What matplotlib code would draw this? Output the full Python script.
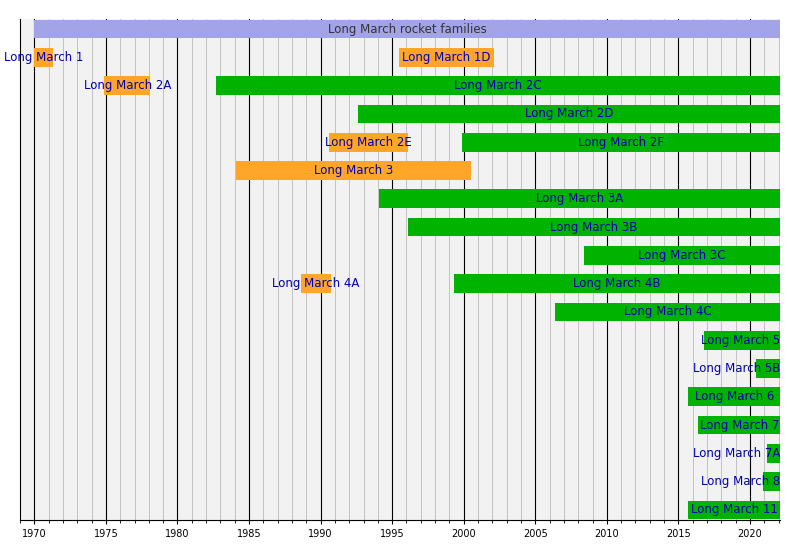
"""
Long March rocket families timeline.
"""
import matplotlib.pyplot as plt
from matplotlib.ticker import MultipleLocator

END = 2022.1

names = ['Long March rocket families', 'Long March 1', 'Long March 1D', 'Long March 2A',
         'Long March 2C', 'Long March 2D', 'Long March 2E', 'Long March 2F', 'Long March 3',
         'Long March 3A', 'Long March 3B', 'Long March 3C', 'Long March 4A', 'Long March 4B',
         'Long March 4C', 'Long March 5', 'Long March 5B', 'Long March 6', 'Long March 7',
         'Long March 7A', 'Long March 8', 'Long March 11']
rows = [0, 1, 1, 2, 2, 3, 4, 4, 5, 6, 7, 8, 9, 9, 10, 11, 12, 13, 14, 15, 16, 17]
starts = [1970.0, 1970.0, 1995.5, 1974.9, 1982.7, 1992.6, 1990.6, 1999.9, 1984.1, 1994.1,
          1996.1, 2008.4, 1988.6, 1999.3, 2006.4, 2016.8, 2020.4, 2015.7, 2016.4, 2021.2,
          2020.9, 2015.7]
ends = [END, 1971.3, 2002.1, 1978.1, END, END, 1996.1, END, 2000.5, END,
        END, END, 1990.7, END, END, END, END, END, END, END, END, END]
status = ['family', 'retired', 'retired', 'retired', 'active', 'active', 'retired', 'active',
          'retired', 'active', 'active', 'active', 'retired', 'active', 'active', 'active',
          'active', 'active', 'active', 'active', 'active', 'active']

colors = {'family': '#a3a3e8', 'retired': '#ffa52a', 'active': '#00b300'}

fig = plt.figure(figsize=(8, 5.5), dpi=100)
ax = fig.add_axes([0.025, 0.055, 0.95, 0.91])
ax.set_facecolor('#f2f2f2')
ax.set_xlim(1969.0, END)
ax.set_ylim(17.35, -0.35)

renderer = fig.canvas.get_renderer()
for name, r, s, e, st in zip(names, rows, starts, ends, status):
    ax.barh(r, e - s, left=s, height=0.66, color=colors[st], zorder=3)
    tc = '#333333' if st == 'family' else '#0000b0'
    t = ax.text((s + e) / 2, r, name, ha='center', va='center', fontsize=8.5, color=tc,
                zorder=4, clip_on=False)
    # keep labels inside the right edge
    bb = t.get_window_extent(renderer)
    ax_right = ax.get_window_extent(renderer).x1
    if bb.x1 > ax_right:
        t.set_ha('right')
        t.set_x(END)

ax.xaxis.set_major_locator(MultipleLocator(5))
ax.xaxis.set_minor_locator(MultipleLocator(1))
ax.grid(which='major', axis='x', color='black', lw=0.8, zorder=1)
ax.grid(which='minor', axis='x', color='#bbbbbb', lw=0.6, zorder=0)
ax.set_yticks([])
ax.tick_params(axis='x', labelsize=7, length=3)
ax.tick_params(axis='x', which='minor', length=2)
for sp in ['top', 'right']:
    ax.spines[sp].set_visible(False)

plt.savefig('out.png', dpi=100)
